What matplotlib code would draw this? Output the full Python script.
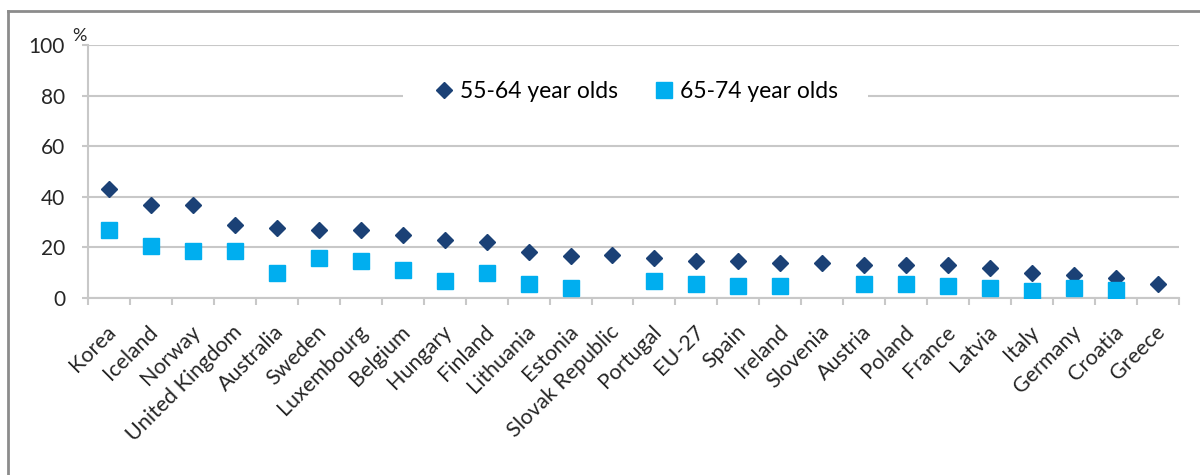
import matplotlib.pyplot as plt
import matplotlib.transforms as mtransforms
import numpy as np

countries = ["Korea", "Iceland", "Norway", "United Kingdom", "Australia", "Sweden",
             "Luxembourg", "Belgium", "Hungary", "Finland", "Lithuania", "Estonia",
             "Slovak Republic", "Portugal", "EU-27", "Spain", "Ireland", "Slovenia",
             "Austria", "Poland", "France", "Latvia", "Italy", "Germany", "Croatia",
             "Greece"]
age_55_64 = [43, 36.6, 36.6, 29, 27.8, 27, 27, 25, 23, 22, 18, 16.8,
             17, 16, 14.8, 14.8, 13.8, 13.8, 13, 13, 13.2, 11.8, 9.9, 9.1, 7.8, 5.6]
age_65_74 = [27, 20.7, 18.7, 18.7, 9.8, 15.9, 14.6, 10.9, 6.8, 9.7, 5.5, 4,
             np.nan, 6.8, 5.6, 4.9, 4.9, np.nan, 5.6, 5.6, 4.8, 3.9, 2.9, 4.1, 3.3, np.nan]
yticks = [0, 20, 40, 60, 80, 100]

plt.rcParams['font.family'] = ['Lato', 'DejaVu Sans']
fig = plt.figure(figsize=(12, 4.75), dpi=100)
ax = fig.add_axes([0.0733, 0.3726, 0.9092, 0.5327])

x = np.arange(len(countries))
grid_col = '#c8c8c8'
txt_col = '#262626'

ax.plot(x, age_55_64, linestyle='none', marker='D', markersize=8.5,
        color='#1b4176', label='55-64 year olds', zorder=3)
ax.plot(x, age_65_74, linestyle='none', marker='s', markersize=11,
        color='#00aeef', label='65-74 year olds', zorder=4)

ax.set_xlim(-0.5, len(countries) - 0.5)
ax.set_ylim(0, 100)
ax.set_yticks(yticks)
ax.set_yticklabels([str(v) for v in yticks], fontsize=15, color=txt_col)
ax.yaxis.grid(True, color=grid_col, linewidth=1.5, zorder=0)
ax.tick_params(axis='y', length=4.5, width=1.5, color=grid_col, pad=12)

# category labels sit under the centres, ticks at the boundaries
ax.set_xticks(x)
ax.set_xticklabels(countries, rotation=45, ha='right', rotation_mode='anchor',
                   fontsize=15.5, color=txt_col)
ax.tick_params(axis='x', length=0, pad=17)
shift = mtransforms.ScaledTranslation(-3 / 100, 0, fig.dpi_scale_trans)
for lbl in ax.get_xticklabels():
    lbl.set_transform(lbl.get_transform() + shift)
ax.set_xticks(np.arange(len(countries) + 1) - 0.5, minor=True)
ax.tick_params(axis='x', which='minor', length=5, width=1.5, color=grid_col)

for side in ['top', 'right']:
    ax.spines[side].set_visible(False)
for side in ['left', 'bottom']:
    ax.spines[side].set_color(grid_col)
    ax.spines[side].set_linewidth(1.5)

ax.text(-0.52, 100.5, '%', fontsize=13, color=txt_col, ha='right', va='bottom')

leg = ax.legend(loc='center', bbox_to_anchor=(0.502, 0.818), ncol=2, fontsize=16.5,
                frameon=True, framealpha=1, edgecolor='white', handletextpad=0.2,
                columnspacing=1.5, borderpad=1.3, handlelength=1.0)
leg.get_frame().set_linewidth(0)

# outer frame of the picture
fig.add_artist(plt.Line2D([0.007, 0.007], [0, 0.977], color='#8c8c8c', linewidth=2,
                          transform=fig.transFigure))
fig.add_artist(plt.Line2D([0.007, 1.0], [0.977, 0.977], color='#8c8c8c', linewidth=2,
                          transform=fig.transFigure))

fig.savefig('out.png', dpi=100)
